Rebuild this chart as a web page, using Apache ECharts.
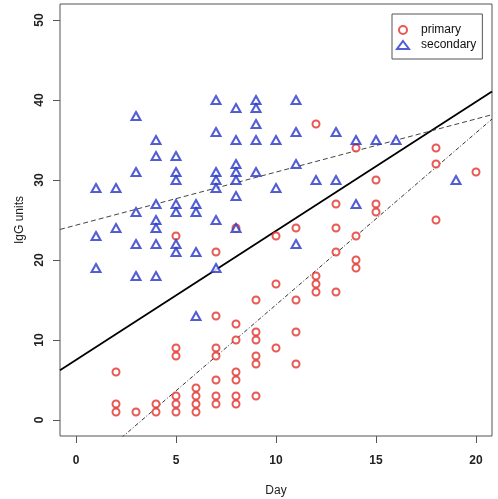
<!DOCTYPE html>
<html>
<head>
<meta charset="utf-8">
<script src="https://cdn.jsdelivr.net/npm/echarts@6/dist/echarts.min.js"></script>
<style>
html,body{margin:0;padding:0;background:#fff;}
#c{width:498px;height:499px;}
</style>
</head>
<body>
<div id="c"></div>
<script>
// ---- data ----
const primaryDays = [2,2,2, 3, 4,4, 5,5,5,5,5,5, 6,6,6,6, 7,7,7,7,7,7,7, 8,8,8,8,8,8,8, 9,9,9,9,9,9, 10,10,10, 11,11,11,11, 12,12,12,12, 13,13,13,13, 14,14,14,14, 15,15,15, 18,18,18, 20];
const primaryIgG  = [6,2,1, 1, 2,1, 23,9,8,3,2,1, 4,3,2,1, 21,13,9,8,5,3,2, 24,12,10,6,5,3,2, 15,11,10,8,7,3, 23,17,9, 24,15,11,7, 37,18,17,16, 27,24,21,16, 34,23,20,19, 30,27,26, 34,32,25, 31];

const secondaryDays = [1,1,1, 2,2, 3,3,3,3,3, 4,4,4,4,4,4,4, 5,5,5,5,5,5,5, 6,6,6,6, 7,7,7,7,7,7,7, 8,8,8,8,8,8,8, 9,9,9,9,9, 10,10, 11,11,11,11, 12, 13,13, 14,14, 15, 16, 19];
const secondaryIgG  = [29,23,19, 29,24, 38,31,26,22,18, 35,33,27,25,24,22,18, 33,31,30,27,26,22,21, 27,26,21,13, 40,36,31,30,29,25,19, 39,35,32,31,30,28,24, 40,39,37,35,31, 35,29, 40,36,32,22, 30, 36,30, 35,27, 35, 35, 30];

const xTicks = [0,5,10,15,20];
const yTicks = [0,10,20,30,40,50];
const xRange = [-0.8, 20.8];
const yRange = [-2, 52];

// fitted lines [intercept, slope]
const fitAll = [7.52, 1.613];
const fitPrimary = [-7.1, 2.15];
const fitSecondary = [24.35, 0.664];

// ---- build ----
function pairs(xs, ys){ return xs.map((x,i)=>[x, ys[i]]); }
function lineData(fit){ return xRange.map(x=>[x, fit[0]+fit[1]*x]); }

const RED = '#e0302a';
const BLUE = '#2434c8';
const FONT = '"Liberation Sans", Arial, Helvetica, sans-serif';

const chart = echarts.init(document.getElementById('c'), null, {renderer:'canvas'});
chart.setOption({
  animation:false,
  backgroundColor:'#fff',
  textStyle:{fontFamily:FONT},
  grid:{left:60, right:6, top:4, bottom:63, show:true, borderColor:'#555', borderWidth:1, backgroundColor:'transparent', containLabel:false, outerBoundsMode:'none'},
  legend:{
    data:['primary','secondary'],
    orient:'vertical',
    left:392, top:14,
    borderColor:'#555', borderWidth:1, borderRadius:0,
    padding:[10,6,8,4],
    itemWidth:12, itemHeight:8, itemGap:3,
    textStyle:{fontFamily:FONT, fontSize:12, color:'#111', padding:[0,0,0,7]}
  },
  xAxis:{
    type:'value', min:xRange[0], max:xRange[1],
    name:'Day', nameLocation:'middle', nameGap:49,
    nameTextStyle:{fontFamily:FONT, fontSize:12, color:'#222'},
    axisLine:{show:false, onZero:false},
    axisTick:{show:true, inside:false, customValues:xTicks, length:7, lineStyle:{color:'#555'}},
    axisLabel:{show:true, customValues:xTicks, margin:19, fontFamily:FONT, fontSize:12, fontWeight:'bold', color:'#222'},
    splitLine:{show:false}
  },
  yAxis:{
    type:'value', min:yRange[0], max:yRange[1],
    name:'IgG units', nameLocation:'middle', nameGap:32,
    nameTextStyle:{fontFamily:FONT, fontSize:12, color:'#222'},
    axisLine:{show:false, onZero:false},
    axisTick:{show:true, inside:false, customValues:yTicks, length:7, lineStyle:{color:'#555'}},
    axisLabel:{show:true, customValues:yTicks, margin:14, rotate:90, fontFamily:FONT, fontSize:12, fontWeight:'bold', color:'#222'},
    splitLine:{show:false}
  },
  series:[
    {name:'fitAll', type:'line', data:lineData(fitAll), symbol:'none', clip:true,
      lineStyle:{color:'#000', width:1.8, type:'solid'}, z:3},
    {name:'fitSecondary', type:'line', data:lineData(fitSecondary), symbol:'none', clip:true,
      lineStyle:{color:'#444', width:1, type:[5,3]}, z:3},
    {name:'fitPrimary', type:'line', data:lineData(fitPrimary), symbol:'none', clip:true,
      lineStyle:{color:'#333', width:1, type:[4,2,1,2]}, z:3},
    {name:'primary', type:'scatter', data:pairs(primaryDays, primaryIgG),
      symbol:'emptyCircle', symbolSize:7,
      itemStyle:{color:RED, borderColor:RED, borderWidth:1.3}, z:4},
    {name:'secondary', type:'scatter', data:pairs(secondaryDays, secondaryIgG),
      symbol:'emptyTriangle', symbolSize:[9,8],
      itemStyle:{color:BLUE, borderColor:BLUE, borderWidth:1.4}, z:5}
  ]
});
</script>
</body>
</html>
